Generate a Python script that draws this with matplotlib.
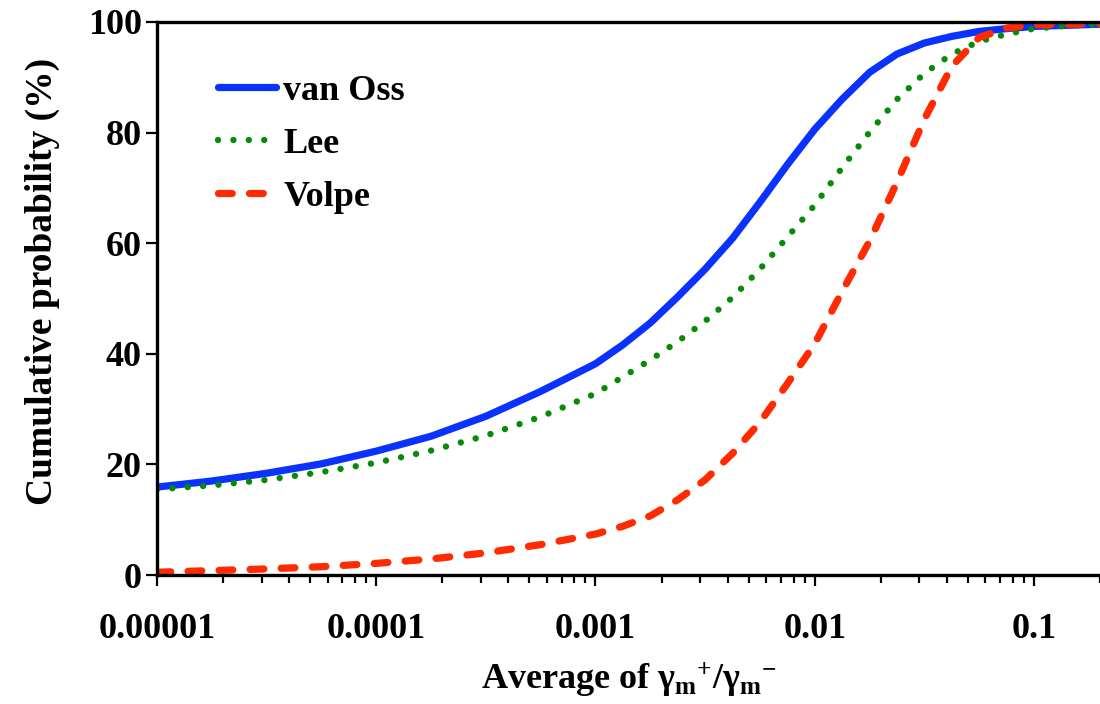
import matplotlib
matplotlib.use("Agg")
import matplotlib.pyplot as plt
from matplotlib.ticker import LogLocator, FixedLocator, FixedFormatter

plt.rcParams['font.family'] = ['Liberation Serif', 'DejaVu Serif']
plt.rcParams['font.weight'] = 'bold'
plt.rcParams['mathtext.fontset'] = 'custom'
plt.rcParams['mathtext.rm'] = 'Liberation Serif:bold'
plt.rcParams['mathtext.it'] = 'Liberation Serif:bold'
plt.rcParams['mathtext.bf'] = 'Liberation Serif:bold'

# average of gamma+/gamma- (eighth-decade grid)
ratio = [1e-5, 1.78e-5, 3.16e-5, 5.62e-5,
         1e-4, 1.78e-4, 3.16e-4, 5.62e-4,
         1e-3, 1.33e-3, 1.78e-3, 2.37e-3, 3.16e-3, 4.22e-3, 5.62e-3, 7.5e-3,
         1e-2, 1.33e-2, 1.78e-2, 2.37e-2, 3.16e-2, 4.22e-2, 5.62e-2, 7.5e-2,
         0.1, 0.141, 0.2]

# cumulative probability (%)
van_oss = [15.9, 17.0, 18.4, 20.1,
           22.4, 25.1, 28.7, 33.2,
           38.2, 41.6, 45.6, 50.3, 55.3, 60.9, 67.4, 74.2,
           80.6, 86.0, 90.9, 94.2, 96.2, 97.4, 98.3, 98.8,
           99.2, 99.4, 99.6]
lee = [15.5, 16.2, 17.2, 18.6,
       20.3, 22.5, 25.2, 28.6,
       32.8, 35.8, 38.9, 42.2, 45.9, 50.2, 55.3, 61.1,
       66.9, 73.6, 80.1, 86.0, 90.7, 94.2, 96.5, 97.8,
       98.8, 99.3, 99.6]
volpe = [0.5, 0.8, 1.1, 1.5,
         2.1, 2.9, 4.0, 5.5,
         7.4, 8.8, 10.7, 13.6, 17.2, 22.0, 27.6, 34.6,
         41.8, 51.2, 60.4, 71.0, 82.4, 92.0, 97.2, 98.9,
         99.5, 99.6, 99.7]

xticks = [1e-5, 1e-4, 1e-3, 1e-2, 1e-1]
xticklabels = ["0.00001", "0.0001", "0.001", "0.01", "0.1"]
yticks = [0, 20, 40, 60, 80, 100]

fig = plt.figure(figsize=(11, 7.04), dpi=100)
ax = fig.add_axes([157 / 1100, 129 / 704, 943 / 1100, 553 / 704])

ax.plot(ratio, van_oss, color="#0A32FF", linewidth=5.2,
        solid_capstyle="round", solid_joinstyle="round", label="van Oss")
ax.plot(ratio, lee, color="#088A08", linewidth=4.6,
        linestyle=(0, (0.01, 2.4)), dash_capstyle="round", label="Lee")
ax.plot(ratio, volpe, color="#FF2A00", linewidth=5.2,
        linestyle=(0, (1.9, 2.4)), dash_capstyle="round", label="Volpe")

ax.set_xscale("log")
ax.set_xlim(1e-5, 0.2)
ax.set_ylim(0, 100)
ax.xaxis.set_major_locator(FixedLocator(xticks))
ax.xaxis.set_major_formatter(FixedFormatter(xticklabels))
ax.xaxis.set_minor_locator(LogLocator(base=10, subs=range(2, 10)))
ax.xaxis.set_minor_formatter(plt.NullFormatter())
ax.set_yticks(yticks)

for side in ["left", "bottom", "top"]:
    ax.spines[side].set_linewidth(2.4)
ax.spines["right"].set_visible(False)
ax.tick_params(axis="both", which="major", direction="out", length=8,
               width=1.6, labelsize=26)
ax.tick_params(axis="y", which="major", pad=3)
ax.tick_params(axis="x", which="major", pad=19)
ax.tick_params(axis="x", which="minor", direction="out", length=6, width=1.6)

ax.set_ylabel("Cumulative probability (%)", fontsize=27, fontweight="bold")
ax.yaxis.set_label_coords(-0.103, 0.53)
ax.set_xlabel(r"Average of $\mathrm{\gamma_m}^{+}/\mathrm{\gamma_m}^{-}$",
              fontsize=26, fontweight="bold", labelpad=11)

ax.legend(loc="upper left", bbox_to_anchor=(0.065, 0.905), frameon=False,
          fontsize=26, handlelength=1.6, handletextpad=0.2,
          labelspacing=0.55, borderpad=0, borderaxespad=0)

fig.savefig("out.png", dpi=100)
